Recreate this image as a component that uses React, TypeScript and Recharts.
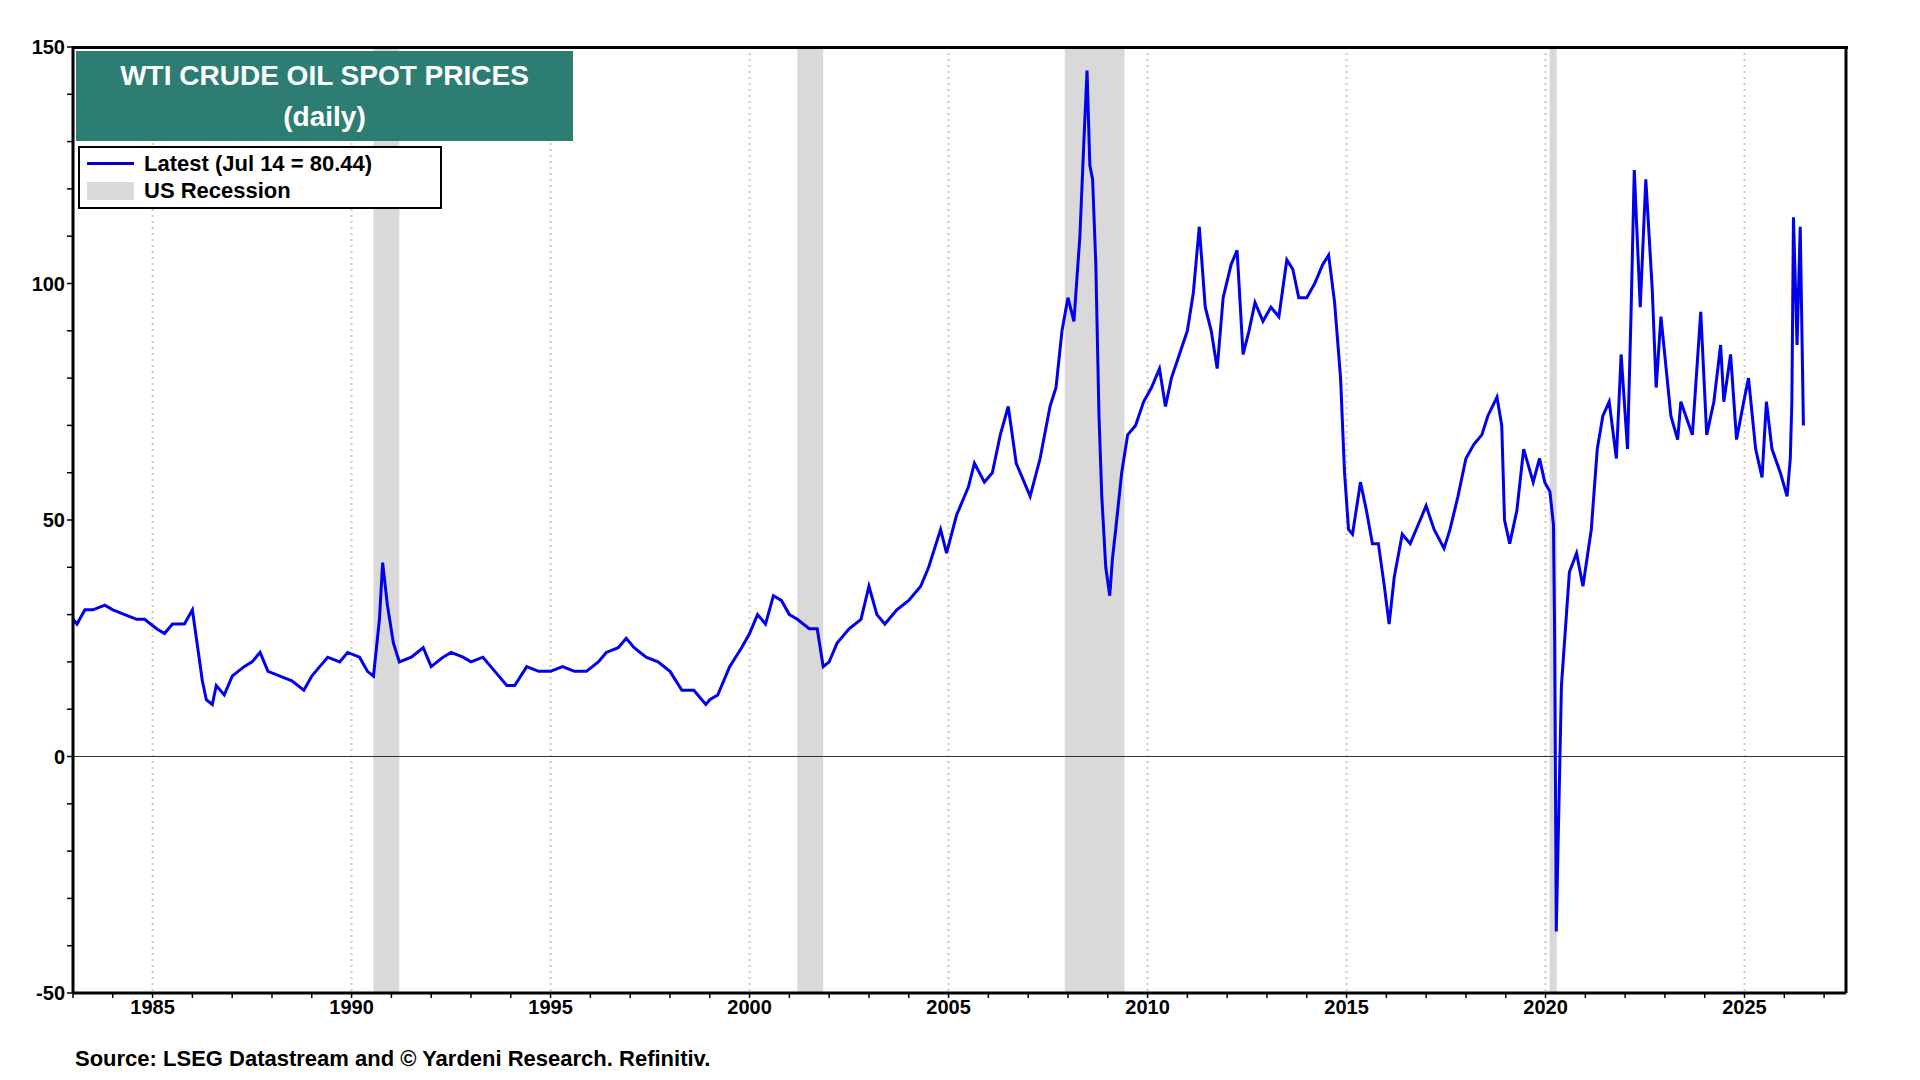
import {
  ComposedChart,
  Line,
  XAxis,
  YAxis,
  CartesianGrid,
  ReferenceArea,
  ReferenceLine,
} from "recharts";

// Decimal year and WTI spot price ($/bbl).
const years = [
  1983.0, 1983.1, 1983.3, 1983.5, 1983.8, 1984.0, 1984.3, 1984.6, 1984.8, 1985.1, 1985.3, 1985.5, 1985.8, 1986.0,
  1986.1, 1986.25, 1986.35, 1986.5, 1986.6, 1986.8, 1987.0, 1987.3, 1987.5, 1987.7, 1987.9, 1988.2, 1988.5, 1988.8,
  1989.0, 1989.2, 1989.4, 1989.7, 1989.9, 1990.2, 1990.4, 1990.55, 1990.7, 1990.78, 1990.9, 1991.05, 1991.2, 1991.5,
  1991.8, 1992.0, 1992.3, 1992.5, 1992.8, 1993.0, 1993.3, 1993.6, 1993.9, 1994.1, 1994.4, 1994.7, 1995.0, 1995.3,
  1995.6, 1995.9, 1996.2, 1996.4, 1996.7, 1996.9, 1997.1, 1997.4, 1997.7, 1998.0, 1998.3, 1998.6, 1998.9, 1999.0,
  1999.2, 1999.5, 1999.8, 2000.0, 2000.2, 2000.4, 2000.6, 2000.8, 2001.0, 2001.2, 2001.5, 2001.7, 2001.85, 2002.0,
  2002.2, 2002.5, 2002.8, 2003.0, 2003.2, 2003.4, 2003.7, 2004.0, 2004.3, 2004.5, 2004.8, 2004.95, 2005.2, 2005.5,
  2005.65, 2005.9, 2006.1, 2006.3, 2006.5, 2006.7, 2006.9, 2007.05, 2007.3, 2007.55, 2007.7, 2007.85, 2008.0,
  2008.15, 2008.3, 2008.4, 2008.48, 2008.55, 2008.62, 2008.7, 2008.78, 2008.85, 2008.95, 2009.05, 2009.12, 2009.2,
  2009.35, 2009.5, 2009.7, 2009.9, 2010.1, 2010.3, 2010.45, 2010.6, 2010.8, 2011.0, 2011.15, 2011.3, 2011.45,
  2011.6, 2011.75, 2011.9, 2012.1, 2012.25, 2012.4, 2012.55, 2012.7, 2012.9, 2013.1, 2013.3, 2013.5, 2013.65,
  2013.8, 2014.0, 2014.2, 2014.4, 2014.55, 2014.7, 2014.85, 2014.95, 2015.05, 2015.15, 2015.35, 2015.5, 2015.65,
  2015.8, 2015.95, 2016.07, 2016.2, 2016.4, 2016.6, 2016.8, 2017.0, 2017.2, 2017.45, 2017.6, 2017.8, 2018.0,
  2018.2, 2018.4, 2018.55, 2018.78, 2018.9, 2018.97, 2019.1, 2019.28, 2019.45, 2019.69, 2019.85, 2019.98, 2020.11,
  2020.2, 2020.23, 2020.27, 2020.4, 2020.6, 2020.78, 2020.94, 2021.15, 2021.3, 2021.44, 2021.6, 2021.78, 2021.9,
  2022.06, 2022.15, 2022.23, 2022.38, 2022.52, 2022.68, 2022.78, 2022.9, 2023.15, 2023.32, 2023.4, 2023.69,
  2023.9, 2024.05, 2024.23, 2024.4, 2024.48, 2024.65, 2024.8, 2024.98, 2025.1, 2025.28, 2025.44, 2025.55, 2025.69,
  2025.9, 2026.07, 2026.15, 2026.19, 2026.23, 2026.32, 2026.4, 2026.44, 2026.48,
];
const prices = [
  29, 28, 31, 31, 32, 31, 30, 29, 29, 27, 26, 28, 28, 31,
  25, 16, 12, 11, 15, 13, 17, 19, 20, 22, 18, 17, 16, 14,
  17, 19, 21, 20, 22, 21, 18, 17, 29, 41, 32, 24, 20, 21,
  23, 19, 21, 22, 21, 20, 21, 18, 15, 15, 19, 18, 18, 19,
  18, 18, 20, 22, 23, 25, 23, 21, 20, 18, 14, 14, 11, 12,
  13, 19, 23, 26, 30, 28, 34, 33, 30, 29, 27, 27, 19, 20,
  24, 27, 29, 36, 30, 28, 31, 33, 36, 40, 48, 43, 51, 57,
  62, 58, 60, 68, 74, 62, 58, 55, 63, 74, 78, 90, 97,
  92, 110, 130, 145, 125, 122, 104, 72, 55, 40, 34, 42, 48,
  60, 68, 70, 75, 78, 82, 74, 80, 85, 90, 98, 112, 95,
  90, 82, 97, 104, 107, 85, 90, 96, 92, 95, 93, 105, 103,
  97, 97, 100, 104, 106, 96, 80, 60, 48, 47, 58, 52, 45,
  45, 36, 28, 38, 47, 45, 49, 53, 48, 44, 48, 55, 63,
  66, 68, 72, 76, 70, 50, 45, 52, 65, 58, 63, 58, 56, 49,
  25, -37, 15, 39, 43, 36, 48, 65, 72, 75, 63, 85, 65,
  94, 124, 95, 122, 99, 78, 93, 72, 67, 75, 68, 94,
  68, 75, 87, 75, 85, 67, 75, 80, 65, 59, 75, 65, 60,
  55, 63, 75, 114, 87, 112, 91, 70, 80,
];

const recessions: [number, number][] = [
  [1990.55, 1991.2],
  [2001.2, 2001.85],
  [2007.92, 2009.42],
  [2020.1, 2020.28],
];

const xTicks = Array.from({ length: 45 }, (_, i) => 1983 + i);
const yTicks = Array.from({ length: 21 }, (_, i) => -50 + i * 10);
const xGrid = [1985, 1990, 1995, 2000, 2005, 2010, 2015, 2020, 2025];

const data = years.map((t, i) => ({ t, price: prices[i] }));

const FONT = "'Liberation Sans', Arial, sans-serif";
const W = 1920;
const H = 1080;
const M = { top: 47, right: 0, bottom: 57, left: 0 };
// plot frame: x 73..1846, y 47..993

const tickStyle = { fill: "#000", fontSize: 20, fontWeight: 700, fontFamily: FONT };

export default function App() {
  return (
    <div style={{ position: "absolute", left: 0, top: 0, width: W, height: H, background: "#fff", fontFamily: FONT }}>
      <ComposedChart width={W} height={H} data={data} margin={M}>
        <CartesianGrid
          stroke="#c8c8c8"
          strokeDasharray="2 4"
          strokeWidth={2}
          horizontalValues={[50, 100]}
          verticalValues={xGrid}
        />
        {recessions.map(([a, b]) => (
          <ReferenceArea key={a} yAxisId="l" x1={a} x2={b} y1={-50} y2={150} fill="#d9d9d9" fillOpacity={1} stroke="none" />
        ))}
        <ReferenceLine yAxisId="l" y={0} stroke="#333" strokeWidth={1} />
        <XAxis
          dataKey="t"
          type="number"
          domain={[1983, 2027.55]}
          ticks={xTicks}
          interval={0}
          tickFormatter={(v: number) => (v % 5 === 0 ? String(v) : "")}
          tick={tickStyle}
          tickSize={5}
          tickLine={{ stroke: "#000", strokeWidth: 1.5 }}
          axisLine={{ stroke: "#000", strokeWidth: 3 }}
          height={30}
          allowDataOverflow
        />
        <YAxis
          yAxisId="l"
          domain={[-50, 150]}
          ticks={yTicks}
          interval={0}
          tickFormatter={(v: number) => (v % 50 === 0 ? String(v) : "")}
          tick={tickStyle}
          tickSize={6}
          tickLine={{ stroke: "#000", strokeWidth: 1.5 }}
          axisLine={{ stroke: "#000", strokeWidth: 3 }}
          width={73}
        />
        <YAxis
          yAxisId="r"
          orientation="right"
          domain={[-50, 150]}
          ticks={yTicks}
          interval={0}
          tickFormatter={(v: number) => (v % 50 === 0 ? String(v) : "")}
          tick={tickStyle}
          tickSize={6}
          tickLine={{ stroke: "#000", strokeWidth: 1.5 }}
          axisLine={{ stroke: "#000", strokeWidth: 3 }}
          width={74}
        />
        <Line
          yAxisId="l"
          dataKey="price"
          stroke="#0000ee"
          strokeWidth={3}
          dot={false}
          type="linear"
          isAnimationActive={false}
        />
      </ComposedChart>
      {/* top edge of the frame */}
      <div style={{ position: "absolute", left: 72, top: 46, width: 1776, height: 3, background: "#000" }} />
      <div
        style={{
          position: "absolute", left: 76, top: 51, width: 497, height: 90, background: "#2e7d72",
          color: "#fff", fontWeight: 700, fontSize: 28, textAlign: "center", lineHeight: "41px", paddingTop: 4, boxSizing: "border-box",
        }}
      >
        WTI CRUDE OIL SPOT PRICES
        <br />
        (daily)
      </div>
      <div
        style={{
          position: "absolute", left: 78, top: 146, width: 364, height: 63, background: "#fff",
          border: "2px solid #000", boxSizing: "border-box", fontWeight: 700, fontSize: 22, lineHeight: "27px", paddingTop: 2,
        }}
      >
        <div style={{ display: "flex", alignItems: "center" }}>
          <span style={{ display: "inline-block", width: 47, height: 3, background: "#0000bb", margin: "0 10px 0 7px" }} />
          Latest (Jul 14 = 80.44)
        </div>
        <div style={{ display: "flex", alignItems: "center" }}>
          <span style={{ display: "inline-block", width: 47, height: 18, background: "#d9d9d9", margin: "0 10px 0 7px" }} />
          US Recession
        </div>
      </div>
      <div style={{ position: "absolute", left: 75, top: 1046, fontWeight: 700, fontSize: 22 }}>
        Source: LSEG Datastream and © Yardeni Research. Refinitiv.
      </div>
    </div>
  );
}
